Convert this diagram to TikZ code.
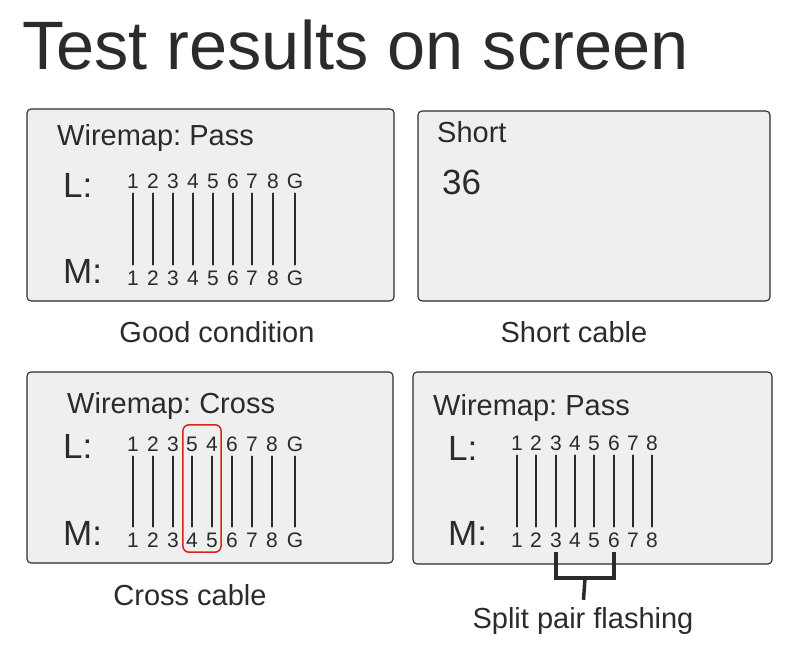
\documentclass[tikz,border=0pt]{standalone}
\usepackage{fontspec}
\setmainfont{Liberation Sans}
\usetikzlibrary{calc}
\definecolor{ink}{HTML}{2B2B2B}
\definecolor{lcd}{HTML}{EFEFEF}
\definecolor{crossred}{HTML}{E0201B}
\frenchspacing

\begin{document}
\begin{tikzpicture}[x=1pt,y=-1pt,line cap=round,line join=round,
  screen/.style={draw=ink,line width=1.1pt,fill=lcd,rounded corners=4pt},
  heading/.style={anchor=base west,inner sep=0pt,text=ink,font=\fontsize{29}{29}\selectfont},
  side/.style={anchor=base west,inner sep=0pt,text=ink,font=\fontsize{35}{35}\selectfont},
  pin/.style={anchor=base,inner xsep=0pt,inner ysep=5pt,text height=15pt,text depth=0pt,
    text=ink,font=\fontsize{21}{21}\selectfont},
  wire/.style={draw=ink,line width=1.4pt},
  bracket/.style={draw=ink,line width=3.5pt,line cap=butt,line join=miter},
  caption/.style={anchor=base,inner sep=0pt,text=ink,font=\fontsize{29}{29}\selectfont}]
\path[use as bounding box] (0,0) rectangle (790,669);

\node[anchor=base west,inner sep=0pt,text=ink,font=\fontsize{68.5}{68.5}\selectfont]
  (title) at (22,70) {Test results on screen};

% good cable
\draw[screen] (27,109) rectangle (394,301);
\node[heading] (pass1) at (57,145) {Wiremap: Pass};
\node[side] (lgood) at (63,197) {L:};
\node[side] (mgood) at (63,283) {M:};
\foreach \p/\x [count=\i] in {1/133,2/153,3/173,4/193,5/213,6/233,7/252,8/273,G/295}{
  \node[pin] (gl\i) at (\x,188) {\p};
  \node[pin] (gm\i) at (\x,285) {\p};
  \draw[wire] (gl\i) -- (gm\i);
}
\node[caption] (goodcap) at (217,342) {Good condition};

% short cable
\draw[screen] (418,111) rectangle (770,301);
\node[heading] (short) at (437,142) {Short};
\node[side] (len) at (442,194) {36};
\node[caption] (shortcap) at (574,342) {Short cable};

% cross cable
\draw[screen] (27,372) rectangle (393,563);
\node[heading] (cross) at (67,413) {Wiremap: Cross};
\node[side] (lcross) at (63,458) {L:};
\node[side] (mcross) at (63,545) {M:};
\foreach \p/\q/\x [count=\i] in {1/1/133,2/2/153,3/3/173,5/4/192,4/5/212,6/6/232,7/7/252,8/8/272,G/G/295}{
  \node[pin] (xl\i) at (\x,451) {\p};
  \node[pin] (xm\i) at (\x,547) {\q};
  \draw[wire] (xl\i) -- (xm\i);
}
\draw[crossred,line width=1.5pt,rounded corners=6pt]
  ($(xl4.north west)+(-3,-6)$) rectangle ($(xm5.south east)+(3,0)$);
\node[caption] (crosscap) at (190,605) {Cross cable};

% split pair
\draw[screen] (413,372) rectangle (772,564);
\node[heading] (pass4) at (433,415) {Wiremap: Pass};
\node[side] (lsplit) at (448,460) {L:};
\node[side] (msplit) at (448,545) {M:};
\foreach \p/\x [count=\i] in {1/517,2/536,3/556,4/575,5/594,6/614,7/633,8/652}{
  \node[pin] (sl\i) at (\x,450) {\p};
  \node[pin] (sm\i) at (\x,547) {\p};
  \draw[wire] (sl\i) -- (sm\i);
}
\node[caption] (split) at (583,628) {Split pair flashing};
\path (sm3.south) ++(0,26) coordinate (b3);
\path (sm6.south) ++(0,26) coordinate (b6);
\draw[bracket] (sm3.south) -- (b3) -- (b6) -- (sm6.south);
\draw[bracket,shorten >=7pt] ($(b3)!0.5!(b6)$) -- (split.north);
\end{tikzpicture}
\end{document}
